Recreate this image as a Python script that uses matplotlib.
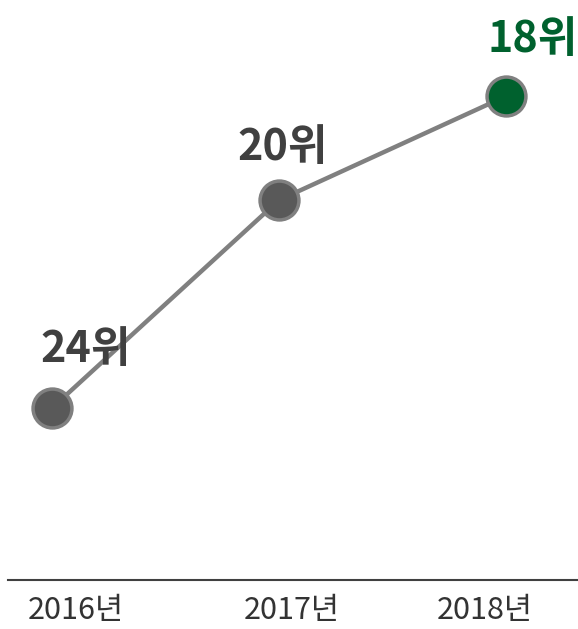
import matplotlib.pyplot as plt

plt.rcParams['font.family'] = ['Noto Sans CJK KR', 'DejaVu Sans']

years = ['2016년', '2017년', '2018년']
ranks = [24, 20, 18]
rank_labels = ['24위', '20위', '18위']

x = list(range(len(years)))

fig = plt.figure(figsize=(5.78, 6.29), dpi=100)
ax = fig.add_axes([8/578, 49/629, 570/578, 580/629])

ax.plot(x, ranks, color='#808080', lw=3.2, zorder=1)
face = ['#595959', '#595959', '#00612E']
for i in x:
    ax.plot(x[i], ranks[i], 'o', ms=28, mfc=face[i], mec='#808080', mew=2.5, zorder=2)

# label offsets in points (dx, dy)
lab_off = [(24, 33), (3, 29), (19, 32)]
lab_col = ['#404040', '#404040', '#00612E']
for i in x:
    ax.annotate(rank_labels[i], (x[i], ranks[i]), xytext=lab_off[i], textcoords='offset points',
                ha='center', va='baseline', fontsize=31, fontweight='bold', color=lab_col[i])

tick_off = [17, 9, -15]
for i in x:
    ax.annotate(years[i], (x[i], 0), xycoords=('data', 'axes fraction'), xytext=(tick_off[i], -11),
                textcoords='offset points', ha='center', va='top', fontsize=22, color='#333333')

ax.set_xlim(-0.194, 2.317)
ax.set_ylim(27.31, 16.15)
for s in ['top', 'right', 'left']:
    ax.spines[s].set_visible(False)
ax.spines['bottom'].set_color('#404040')
ax.spines['bottom'].set_linewidth(1.5)
ax.set_xticks([])
ax.set_yticks([])

plt.savefig('out.png', dpi=100)
plt.close()
